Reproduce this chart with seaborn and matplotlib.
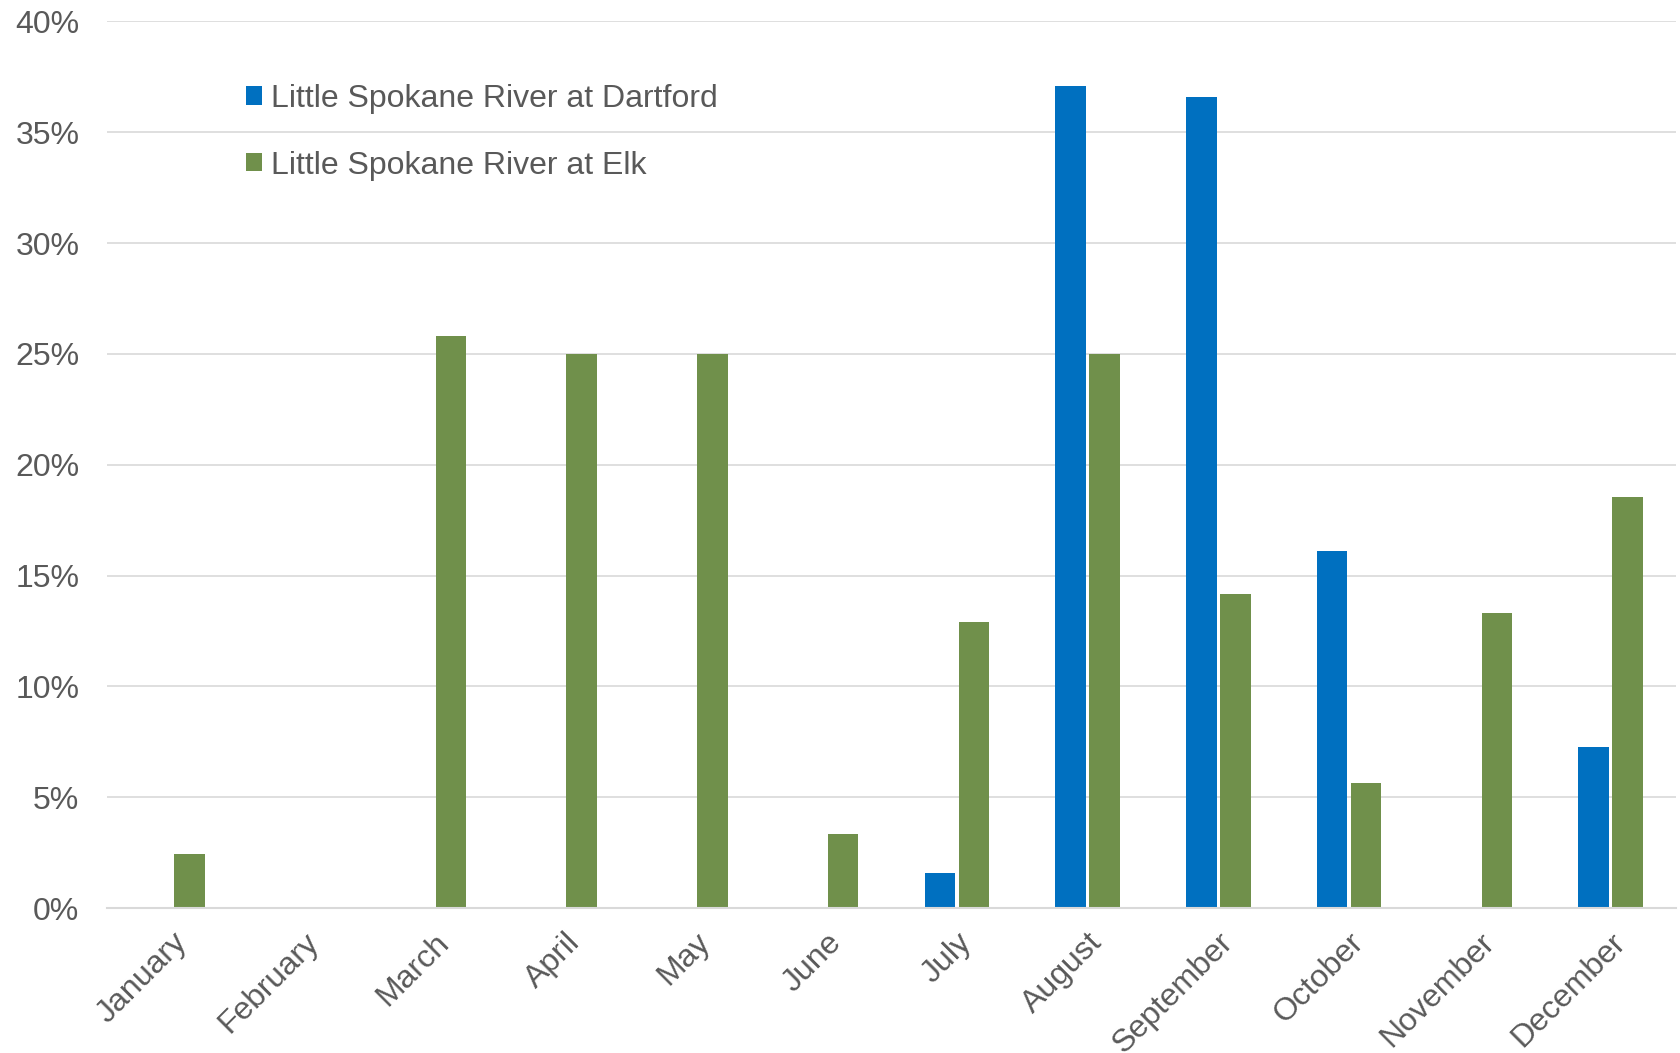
import numpy as np
import pandas as pd
import matplotlib
matplotlib.use("Agg")
import matplotlib.pyplot as plt
import seaborn as sns

# Datos (porcentaje de días)
months = ['January', 'February', 'March', 'April', 'May', 'June',
          'July', 'August', 'September', 'October', 'November', 'December']
dartford = [np.nan, np.nan, np.nan, np.nan, np.nan, np.nan,
            1.6, 37.1, 36.6, 16.1, np.nan, 7.25]
elk = [2.42, np.nan, 25.8, 25.0, 25.0, 3.33,
       12.9, 25.0, 14.15, 5.65, 13.3, 18.55]
series_names = ['Little Spokane River at Dartford', 'Little Spokane River at Elk']
colors = ['#0070C0', '#70904B']
yticks = [0, 5, 10, 15, 20, 25, 30, 35, 40]

df = pd.DataFrame({
    'month': months * 2,
    'value': dartford + elk,
    'site': [series_names[0]] * 12 + [series_names[1]] * 12,
})

sns.set_theme(style='white')
plt.rcParams['font.family'] = ['Liberation Sans', 'DejaVu Sans']

fig = plt.figure(figsize=(16.81, 10.53), dpi=100)
ax = fig.add_axes([0.0637, 0.1377, 0.9333, 0.8419])

sns.barplot(data=df, x='month', y='value', hue='site', order=months,
            hue_order=series_names, palette=colors, width=0.52, gap=0.1,
            saturation=1, errorbar=None, ax=ax, linewidth=0)

ax.set_xlim(-0.5, 11.5)
ax.set_ylim(0, 40)
ax.set_yticks(yticks)
ax.set_yticklabels([f'{t}%' for t in yticks])
ax.yaxis.grid(True, color='#D9D9D9', linewidth=1.2)
ax.set_axisbelow(True)
ax.set_xlabel('')
ax.set_ylabel('')

for side in ['left', 'right', 'top']:
    ax.spines[side].set_visible(False)
ax.spines['bottom'].set_color('#D9D9D9')
ax.spines['bottom'].set_linewidth(1.5)

ax.tick_params(axis='y', length=0, labelsize=23, labelcolor='#595959', pad=20)
ax.tick_params(axis='x', length=0, labelsize=23, labelcolor='#595959', pad=14)
for lbl in ax.get_xticklabels():
    lbl.set_rotation(45)
    lbl.set_ha('right')
    lbl.set_rotation_mode('anchor')

handles, labels = ax.get_legend_handles_labels()
ax.legend(handles, labels, loc='upper left', bbox_to_anchor=(0.07, 0.962),
          frameon=False, fontsize=23, labelcolor='#595959',
          handlelength=0.5, handleheight=0.5, handletextpad=0.3,
          labelspacing=1.15)

fig.savefig('out.png', dpi=100)
